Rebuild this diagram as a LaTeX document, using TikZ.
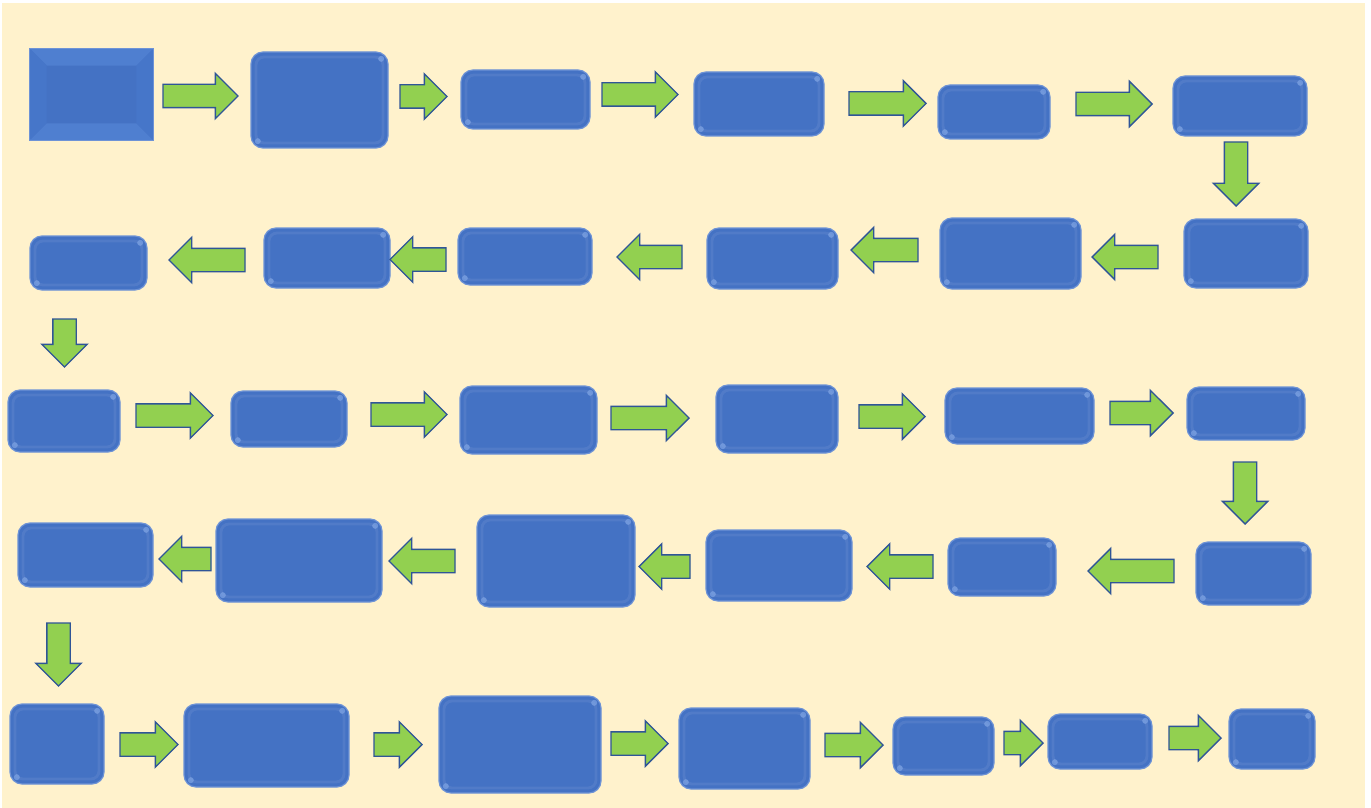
\documentclass[tikz,border=0pt]{standalone}
\usetikzlibrary{shapes.arrows}
\definecolor{bgyellow}{HTML}{FFF2CC}
\definecolor{boxblue}{HTML}{4472C4}
\definecolor{boxedge}{HTML}{6E93D6}
\definecolor{boxhl}{HTML}{8DB0EC}
\definecolor{bevlight}{HTML}{4F7FD0}
\definecolor{bevside}{HTML}{4676C9}
\definecolor{arrgreen}{HTML}{92D050}
\definecolor{arredge}{HTML}{2F5597}
\tikzset{
  blk/.style 2 args={rectangle, rounded corners=6pt, fill=boxblue, draw=boxedge,
    line width=0.6pt, minimum width=#1*0.5pt, minimum height=#2*0.5pt, inner sep=0pt,
    path picture={
      \draw[white, opacity=0.07, line width=1.4pt, rounded corners=4pt]
        ([shift={(2.5pt,2.5pt)}]path picture bounding box.south west) rectangle
        ([shift={(-2.5pt,-2.5pt)}]path picture bounding box.north east);
      \fill[boxhl, opacity=0.55] ([shift={(-3.4pt,-3.4pt)}]path picture bounding box.north east) circle (1.5pt);
      \fill[boxhl, opacity=0.55] ([shift={(3.4pt,3.4pt)}]path picture bounding box.south west) circle (1.5pt);
    }},
  bev/.style 2 args={rectangle, fill=boxblue, draw=boxedge, line width=0.4pt,
    minimum width=#1*0.5pt, minimum height=#2*0.5pt, inner sep=0pt},
  garrow/.style={single arrow, fill=arrgreen, draw=arredge, line width=0.7pt,
    single arrow head extend=5.5pt,
    single arrow tip angle=90, minimum height=#1*0.5pt, outer sep=0pt},
  rarr/.style={garrow=#1, inner xsep=0pt, inner ysep=5.5pt, anchor=tail},
  larr/.style={garrow=#1, inner xsep=0pt, inner ysep=5.5pt, shape border rotate=180, anchor=tail},
  darr/.style={garrow=#1, inner xsep=5.5pt, inner ysep=0pt, shape border rotate=270, anchor=tail}
}
\begin{document}
\begin{tikzpicture}[x=0.5pt,y=-0.5pt]
\useasboundingbox (0,0) rectangle (1371,808);
\fill[white] (0,0) rectangle (1371,808);
\fill[bgyellow] (2,3) rectangle (1365,808);

% Row 1
\node[bev={123}{91}] (b1) at (91.5,94.5) {};
\fill[bevlight] (b1.north west) -- (b1.north east) -- ([shift={(-8.5pt,-8.5pt)}]b1.north east) -- ([shift={(8.5pt,-8.5pt)}]b1.north west) -- cycle;
\fill[bevlight] (b1.south west) -- (b1.south east) -- ([shift={(-8.5pt,8.5pt)}]b1.south east) -- ([shift={(8.5pt,8.5pt)}]b1.south west) -- cycle;
\fill[bevside] (b1.north west) -- ([shift={(8.5pt,-8.5pt)}]b1.north west) -- ([shift={(8.5pt,8.5pt)}]b1.south west) -- (b1.south west) -- cycle;
\fill[bevside] (b1.north east) -- ([shift={(-8.5pt,-8.5pt)}]b1.north east) -- ([shift={(-8.5pt,8.5pt)}]b1.south east) -- (b1.south east) -- cycle;
\draw[boxedge, line width=0.4pt] (b1.north west) rectangle (b1.south east);
\node[blk={137}{96}] (b2) at (319.5,100) {};
\node[blk={129}{59}] (b3) at (525.5,99.5) {};
\node[blk={130}{64}] (b4) at (759,104) {};
\node[blk={112}{54}] (b5) at (994,112) {};
\node[blk={134}{60}] (b6) at (1240,106) {};
\node[rarr=75] (a1) at (163,96) {};
\node[rarr=47] (a2) at (400,96.5) {};
\node[rarr=76] (a3) at (602,94.5) {};
\node[rarr=77] (a4) at (849,103.5) {};
\node[rarr=76] (a5) at (1076,104) {};
\node[darr=64] (d1) at (1236,142) {};

% Row 2
\node[blk={124}{69}] (b7) at (1246,253.5) {};
\node[blk={141}{71}] (b8) at (1010.5,253.5) {};
\node[blk={131}{61}] (b9) at (772.5,258.5) {};
\node[blk={134}{57}] (b10) at (525,256.5) {};
\node[blk={126}{60}] (b11) at (327,258) {};
\node[blk={117}{54}] (b12) at (88.5,263) {};
\node[larr=66] (a6) at (1158,257) {};
\node[larr=67] (a7) at (918,250) {};
\node[larr=65] (a8) at (682,257) {};
\node[larr=56] (a9) at (446,259.5) {};
\node[larr=76] (a10) at (245,260) {};
\node[darr=48] (d2) at (64.5,319) {};

% Row 3
\node[blk={112}{62}] (b13) at (64,421) {};
\node[blk={116}{56}] (b14) at (289,419) {};
\node[blk={137}{68}] (b15) at (528.5,420) {};
\node[blk={122}{68}] (b16) at (777,419) {};
\node[blk={149}{56}] (b17) at (1019.5,416) {};
\node[blk={118}{53}] (b18) at (1246,413.5) {};
\node[rarr=77] (a11) at (136,415.5) {};
\node[rarr=76] (a12) at (371,414.5) {};
\node[rarr=78] (a13) at (611,418) {};
\node[rarr=66] (a14) at (859,416.5) {};
\node[rarr=63] (a15) at (1110,413) {};
\node[darr=62] (d3) at (1245,462) {};

% Row 4
\node[blk={115}{63}] (b19) at (1253.5,573.5) {};
\node[blk={108}{58}] (b20) at (1002,567) {};
\node[blk={146}{71}] (b21) at (779,565.5) {};
\node[blk={158}{92}] (b22) at (556,561) {};
\node[blk={166}{83}] (b23) at (299,560.5) {};
\node[blk={135}{64}] (b24) at (85.5,555) {};
\node[larr=86] (a16) at (1174,571) {};
\node[larr=66] (a17) at (933,566.5) {};
\node[larr=51] (a18) at (690,566.5) {};
\node[larr=66] (a19) at (455,561) {};
\node[larr=52] (a20) at (211,559) {};
\node[darr=63] (d4) at (58.5,623) {};

% Row 5
\node[blk={94}{80}] (b25) at (57,744) {};
\node[blk={165}{83}] (b26) at (266.5,745.5) {};
\node[blk={162}{97}] (b27) at (520,744.5) {};
\node[blk={131}{81}] (b28) at (744.5,748.5) {};
\node[blk={101}{58}] (b29) at (943.5,746) {};
\node[blk={104}{55}] (b30) at (1100,741.5) {};
\node[blk={86}{60}] (b31) at (1272,739) {};
\node[rarr=58] (a21) at (120,744.5) {};
\node[rarr=48] (a22) at (374,744.5) {};
\node[rarr=57] (a23) at (611,743.5) {};
\node[rarr=58] (a24) at (825,745) {};
\node[rarr=39] (a25) at (1004,743) {};
\node[rarr=52] (a26) at (1169,738) {};
\end{tikzpicture}
\end{document}
